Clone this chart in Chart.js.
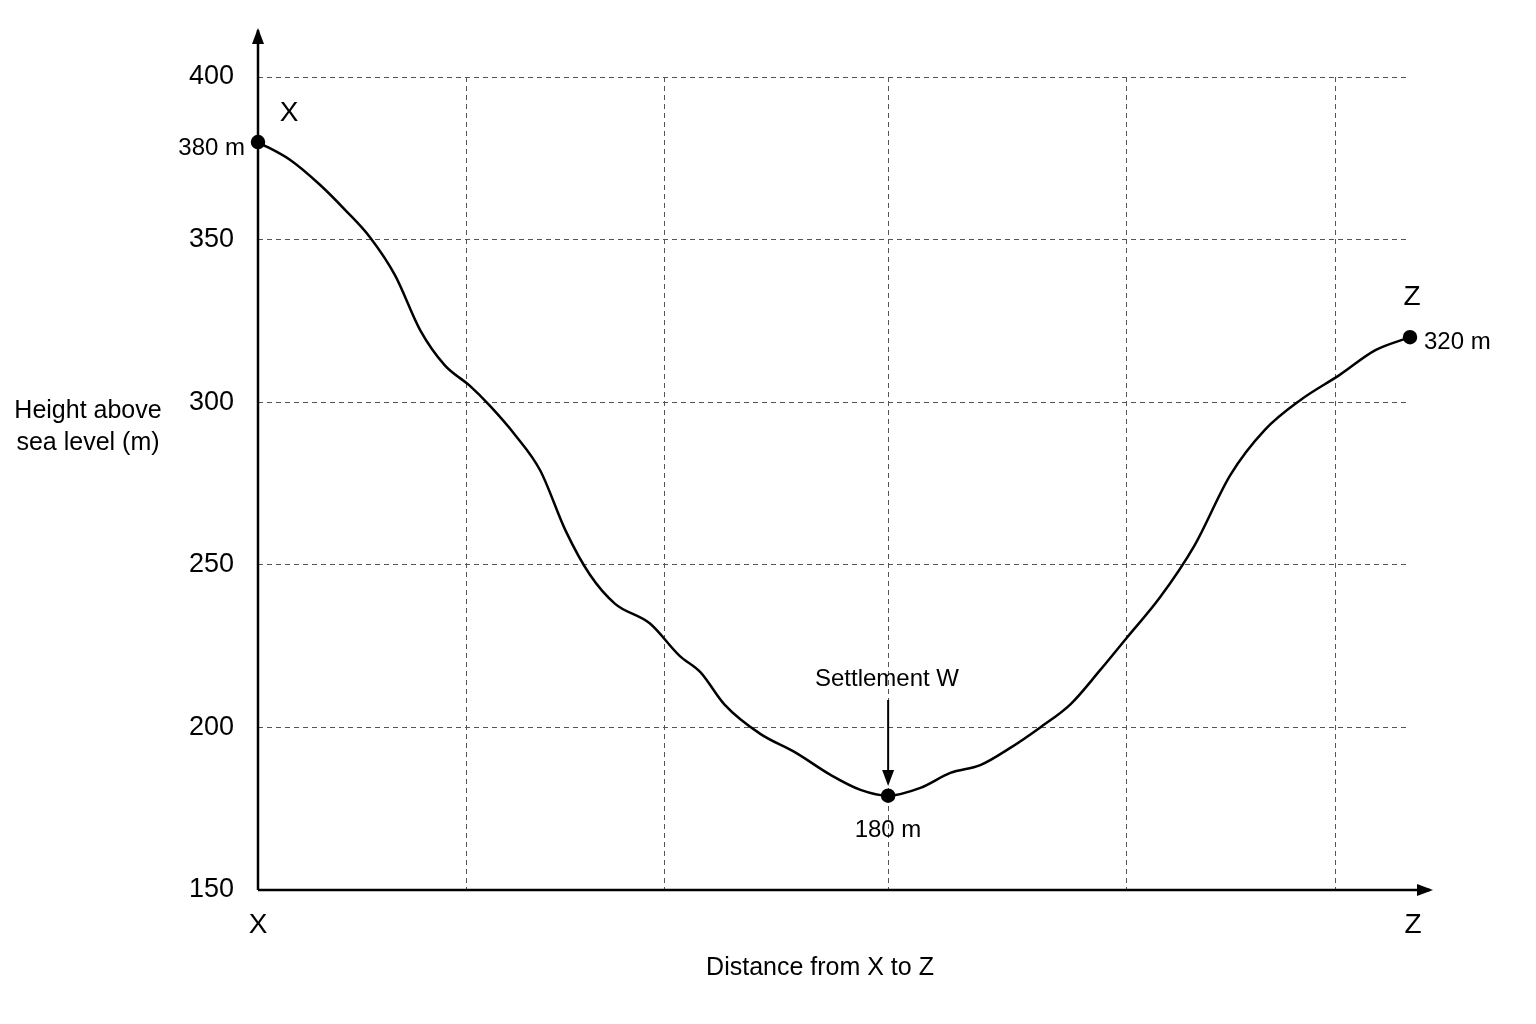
<!DOCTYPE html>
<html><head><meta charset="utf-8">
<script src="https://cdn.jsdelivr.net/npm/chart.js@4.4.1/dist/chart.umd.min.js"></script>
<style>html,body{margin:0;background:#fff}#wrap{width:1536px;height:1024px}</style>
</head><body><div id="wrap"><canvas id="c" width="1536" height="1024"></canvas></div>
<script>
const distances=[0,2.8,5.4,7.6,9.7,11.9,14.1,16.2,18.4,20.1,22.3,24.5,26.7,28.8,31.0,34.0,36.6,38.4,40.5,43.6,46.6,49.7,52.3,54.7,57.5,60.1,62.7,65.3,67.9,70.5,73.1,75.4,78.3,81.3,84.4,87.4,90.5,93.9,97.0,100];
const heights=[380,374.5,366.8,359,350.8,339,322,311.4,305,299,290,279,260.5,247,238,232,222,217,207,198,192.4,185.4,180.8,179,181.4,186,188.4,193.7,200,207,217.6,227.5,240,256,277.6,291.5,300.7,308.4,316,320];
const xGrid=[0,18.1,35.3,54.7,75.4,93.5];
const yTicks=[150,200,250,300,350,400];
const marked=[0,23,39];
const FONT="'Liberation Sans Narrow','Liberation Sans',Arial,sans-serif";
const deco={id:'deco',afterDraw(ch){
 const c=ch.ctx,x=ch.scales.x,y=ch.scales.y;
 const x0=x.getPixelForValue(0),y0=y.getPixelForValue(150);
 c.save();c.strokeStyle='#000';c.fillStyle='#000';c.lineWidth=2.5;
 c.beginPath();c.moveTo(x0,y0);c.lineTo(x0,30);c.moveTo(x0,y0);c.lineTo(1430,y0);c.stroke();
 c.beginPath();c.moveTo(x0,28);c.lineTo(x0-6,44);c.lineTo(x0+6,44);c.closePath();c.fill();
 c.beginPath();c.moveTo(1433,y0);c.lineTo(1417,y0-6);c.lineTo(1417,y0+6);c.closePath();c.fill();
 c.textBaseline='middle';c.font='25px '+FONT;c.textAlign='center';
 c.fillText('Height above',88,411);c.fillText('sea level (m)',88,443);
 c.fillText('Distance from X to Z',820,968);
 c.font='28px '+FONT;
 c.fillText('X',x0,925);c.fillText('Z',1413,925);c.fillText('X',289,113);c.fillText('Z',1412,297);
 c.font='24px '+FONT;
 c.fillText('Settlement W',887,679);c.fillText('180 m',888,830);
 c.textAlign='right';c.fillText('380 m',245,148);
 c.textAlign='left';c.fillText('320 m',1424,342);
 const ax=x.getPixelForValue(distances[23]);
 c.lineWidth=2;c.beginPath();c.moveTo(ax,700);c.lineTo(ax,775);c.stroke();
 c.beginPath();c.moveTo(ax,786);c.lineTo(ax-6,770);c.lineTo(ax+6,770);c.closePath();c.fill();
 c.restore();}};
new Chart(document.getElementById('c'),{type:'line',
 data:{datasets:[{data:distances.map((d,i)=>({x:d,y:heights[i]})),borderColor:'#000',borderWidth:2.5,clip:false,
  cubicInterpolationMode:'monotone',
  pointRadius:ctx=>marked.includes(ctx.dataIndex)?6:0,pointBackgroundColor:'#000',pointBorderColor:'#000'}]},
 options:{responsive:false,animation:false,layout:{padding:{top:77,right:126,left:0,bottom:0}},
  plugins:{legend:{display:false},tooltip:{enabled:false}},
  scales:{
   x:{type:'linear',min:0,max:100,afterBuildTicks:s=>{s.ticks=xGrid.map(v=>({value:v}))},
    afterFit:s=>{s.height=134},ticks:{display:false},
    grid:{color:'#555',lineWidth:1,drawTicks:false},border:{display:false,dash:[5,4]}},
   y:{min:150,max:400,afterBuildTicks:s=>{s.ticks=yTicks.map(v=>({value:v}))},
    afterFit:s=>{s.width=258},
    ticks:{color:'#000',font:{size:27,family:FONT},padding:24},
    grid:{color:'#555',lineWidth:1,drawTicks:false},border:{display:false,dash:[5,4]}}}},
 plugins:[deco]});
</script></body></html>
